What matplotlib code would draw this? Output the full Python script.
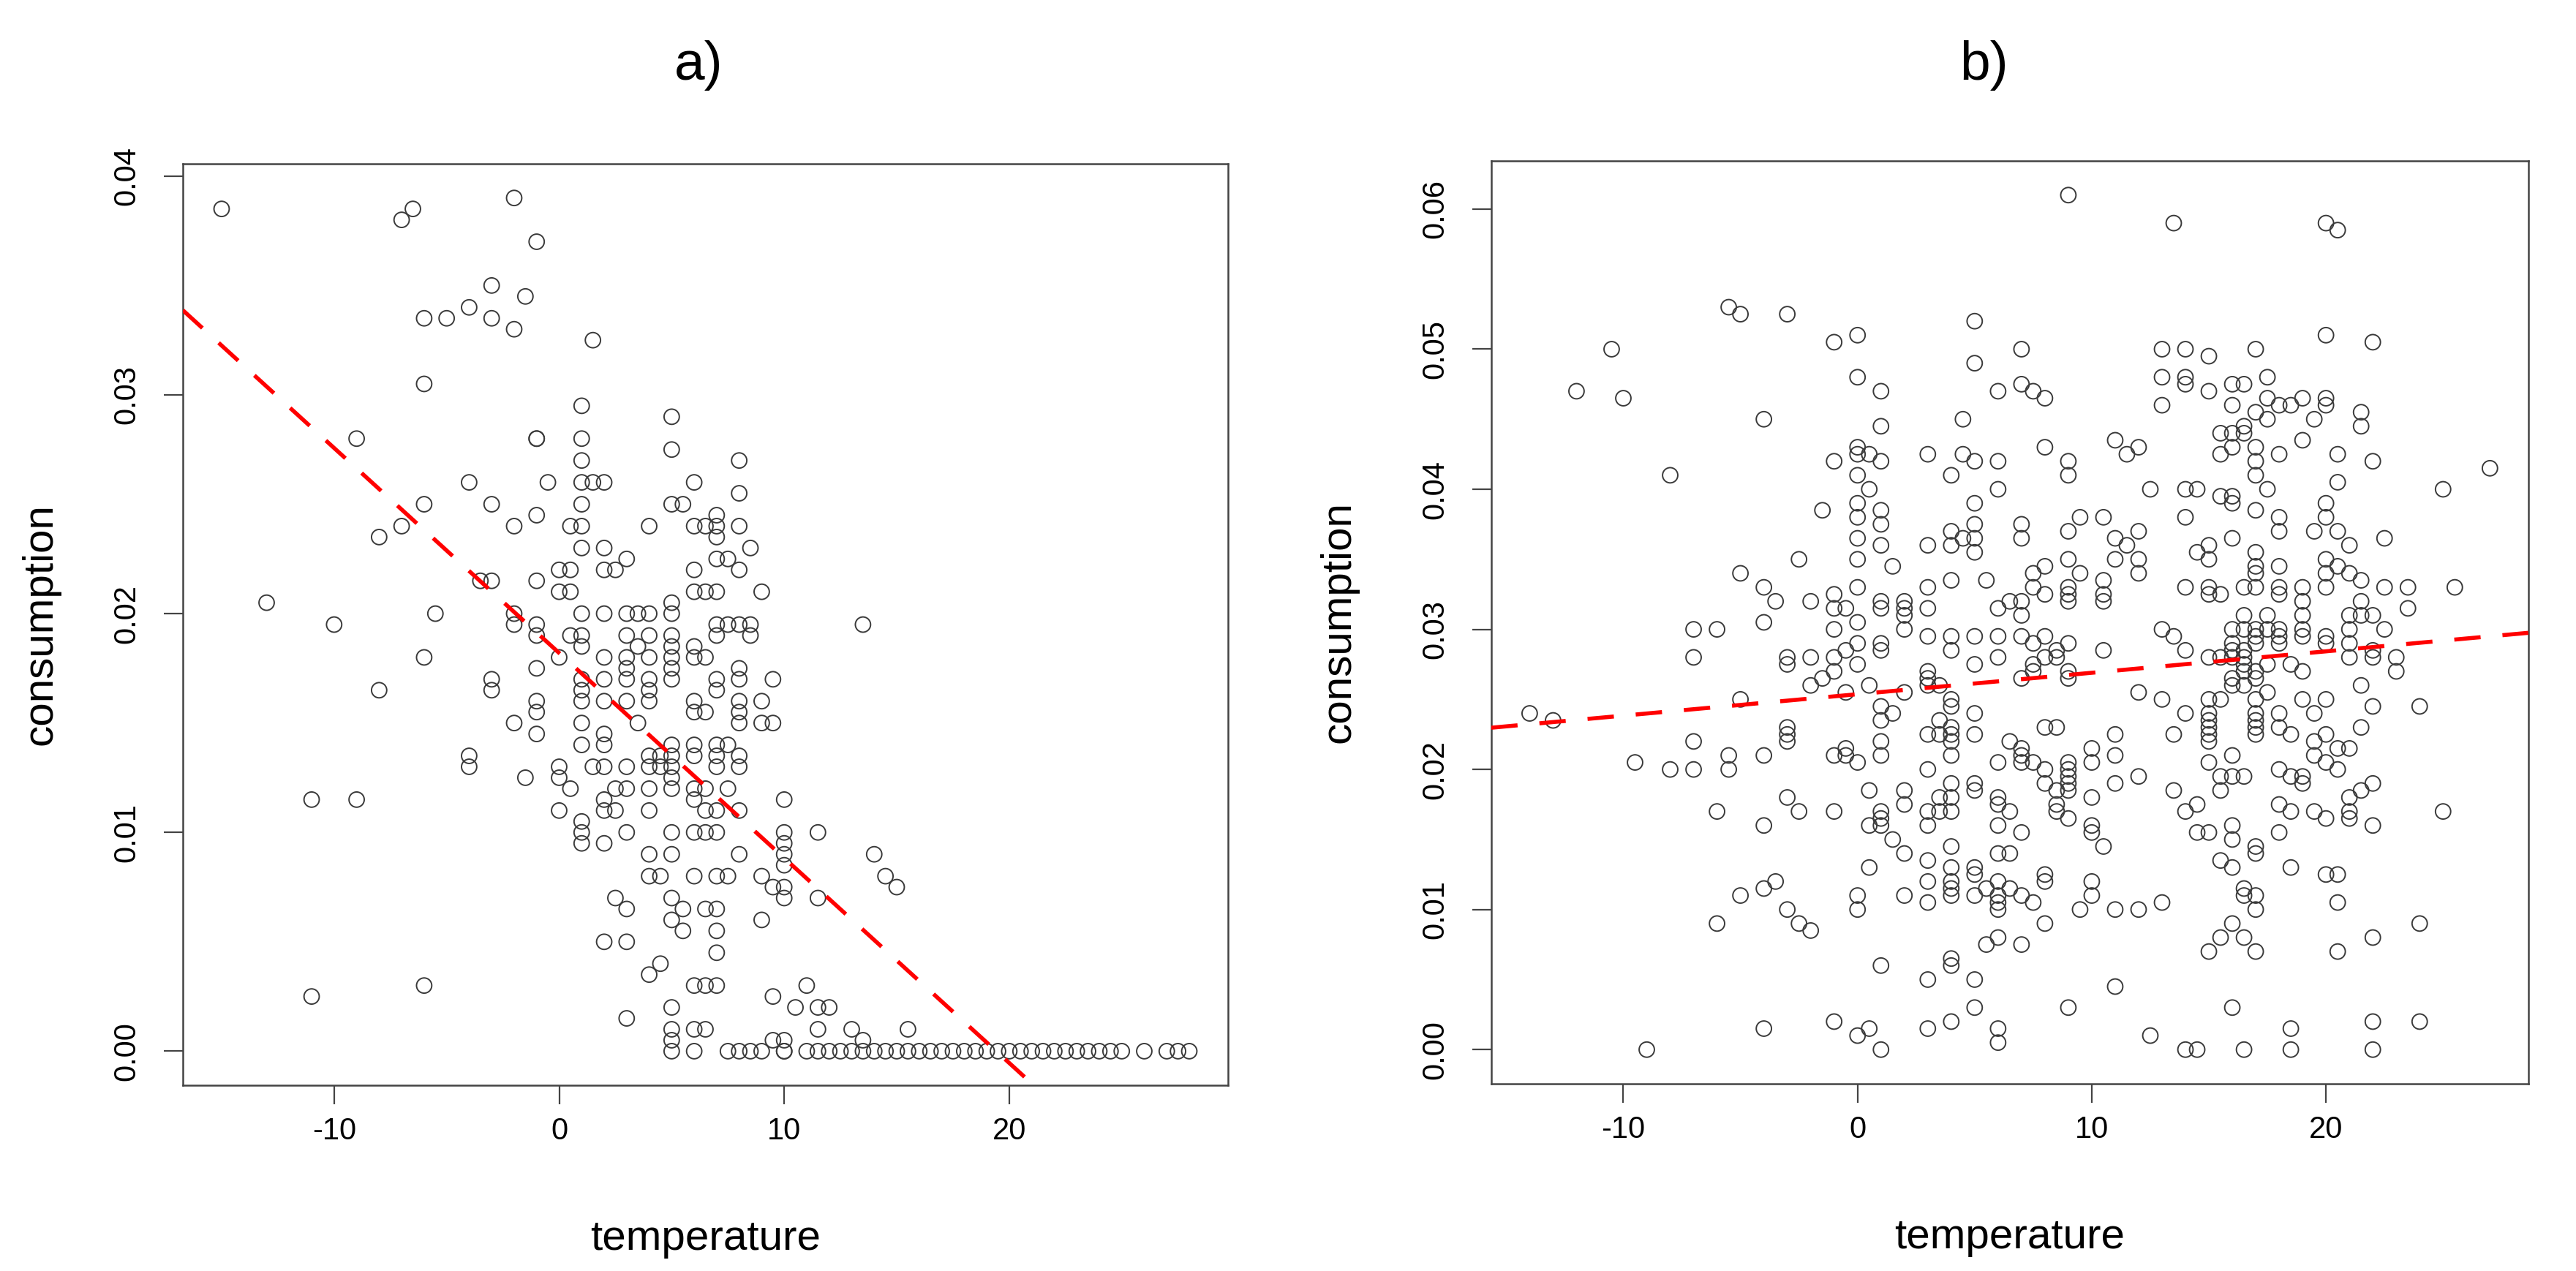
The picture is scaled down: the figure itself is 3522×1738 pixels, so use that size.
import matplotlib
matplotlib.use("Agg")
import matplotlib.pyplot as plt

# ---------- Data: panel a) ----------
temp_a = [
    -15, -6.5, -7, -2, -1, -3, -1.5, -4, -6, -5,
    -3, -2, 1.5, -6, 1, 5, -9, -1, -1, 1,
    1, 5, -4, -0.5, 1, 1.5, 2, 6, -6, -3,
    1, 5, 5.5, -1, -7, -8, -2, 0.5, 1, 4,
    6, 6.5, 1, 2, 3, 0, 0.5, 2, 2.5, 6,
    -3.5, -3, -1, 0, 0.5, 6, 6.5, 5, 5, -13,
    -5.5, -2, 1, 2, 3, 3.5, 4, -10, -1, -2,
    8, 8, 7, 7, 7, 8, 8.5, 7, 7.5, 8,
    7, 9, 7, 7.5, 8, 8.5, 13.5, 7, 8.5, 8,
    -1, 0.5, 1, 1, -6, -8, -3, -3, -1, 0,
    2, 3, 4, 5, 3, 4, 5, 5, 5, 5,
    3, 3, 3.5, 4, 4, 4, 2, 1, 1, 1,
    2, 3, -1, -1, -2, 1, -1, 3.5, 2, 2,
    1, 5, 6, 6, 6, 6, 6.5, 6, 6, 6.5,
    -4, -4, 4, 4.5, 5, 4, 4.5, 5, 5, 5,
    0, 0, -1.5, 1.5, 2, 3, 0.5, 2.5, 3, 4,
    6, 6.5, 6, 2, 0, 2, 2.5, 4, 6.5, -11,
    -9, 1, 1, 1, 2, 3, 5, 6, 6.5, 4,
    5, 4, 4.5, 6, 2.5, 3, 5, 5.5, 5, 5.5,
    6.5, 2, 3, 4.5, 4, 6, 6.5, -6, -11, 5,
    3, 5, 5, 6, 6.5,
    8, 7, 7, 9.5, 9, 8, 8, 8, 9, 9.5,
    7, 7.5, 7, 7, 8, 8, 7.5, 7, 8, 10,
    7, 10, 10, 10, 10, 11.5, 8, 14, 7, 7.5,
    9, 9.5, 10, 10, 11.5, 14.5, 15, 7, 9, 7,
    7, 7, 11, 9.5, 10.5, 11.5, 12, 11.5, 13, 15.5,
    9.5, 10, 13.5,
    5, 6, 7.5, 8, 8.5, 9, 10, 10, 11, 11.5,
    12, 12.5, 13, 13.5, 14, 14.5, 15, 15.5, 16, 16.5,
    17, 17.5, 18, 18.5, 19, 19.5, 20, 20.5, 21, 21.5,
    22, 22.5, 23, 23.5, 24, 24.5, 25, 26, 27, 27.5,
    28,
]
cons_a = [
    0.0385, 0.0385, 0.038, 0.039, 0.037, 0.035, 0.0345, 0.034, 0.0335, 0.0335,
    0.0335, 0.033, 0.0325, 0.0305, 0.0295, 0.029, 0.028, 0.028, 0.028, 0.028,
    0.027, 0.0275, 0.026, 0.026, 0.026, 0.026, 0.026, 0.026, 0.025, 0.025,
    0.025, 0.025, 0.025, 0.0245, 0.024, 0.0235, 0.024, 0.024, 0.024, 0.024,
    0.024, 0.024, 0.023, 0.023, 0.0225, 0.022, 0.022, 0.022, 0.022, 0.022,
    0.0215, 0.0215, 0.0215, 0.021, 0.021, 0.021, 0.021, 0.0205, 0.020, 0.0205,
    0.020, 0.020, 0.020, 0.020, 0.020, 0.020, 0.020, 0.0195, 0.0195, 0.0195,
    0.027, 0.0255, 0.0245, 0.024, 0.0235, 0.024, 0.023, 0.0225, 0.0225, 0.022,
    0.021, 0.021, 0.0195, 0.0195, 0.0195, 0.0195, 0.0195, 0.019, 0.019, 0.0175,
    0.019, 0.019, 0.019, 0.0185, 0.018, 0.0165, 0.017, 0.0165, 0.0175, 0.018,
    0.018, 0.019, 0.019, 0.019, 0.018, 0.018, 0.018, 0.0185, 0.0175, 0.017,
    0.0175, 0.017, 0.0185, 0.017, 0.0165, 0.016, 0.017, 0.017, 0.0165, 0.016,
    0.016, 0.016, 0.016, 0.0155, 0.015, 0.015, 0.0145, 0.015, 0.0145, 0.014,
    0.014, 0.014, 0.014, 0.0135, 0.0185, 0.018, 0.018, 0.016, 0.0155, 0.0155,
    0.0135, 0.013, 0.0135, 0.0135, 0.0135, 0.013, 0.013, 0.013, 0.0125, 0.012,
    0.013, 0.0125, 0.0125, 0.013, 0.013, 0.013, 0.012, 0.012, 0.012, 0.012,
    0.012, 0.012, 0.0115, 0.0115, 0.011, 0.011, 0.011, 0.011, 0.011, 0.0115,
    0.0115, 0.0105, 0.010, 0.0095, 0.0095, 0.010, 0.010, 0.010, 0.010, 0.009,
    0.009, 0.008, 0.008, 0.008, 0.007, 0.0065, 0.007, 0.0065, 0.006, 0.0055,
    0.0065, 0.005, 0.005, 0.004, 0.0035, 0.003, 0.003, 0.003, 0.0025, 0.002,
    0.0015, 0.001, 0.0005, 0.001, 0.001,
    0.017, 0.017, 0.0165, 0.017, 0.016, 0.016, 0.0155, 0.015, 0.015, 0.015,
    0.014, 0.014, 0.0135, 0.013, 0.0135, 0.013, 0.012, 0.011, 0.011, 0.0115,
    0.010, 0.010, 0.0095, 0.009, 0.0085, 0.010, 0.009, 0.009, 0.008, 0.008,
    0.008, 0.0075, 0.0075, 0.007, 0.007, 0.008, 0.0075, 0.0065, 0.006, 0.0055,
    0.0045, 0.003, 0.003, 0.0025, 0.002, 0.002, 0.002, 0.001, 0.001, 0.001,
    0.0005, 0.0005, 0.0005,
    0.0, 0.0, 0.0, 0.0, 0.0, 0.0, 0.0, 0.0, 0.0, 0.0,
    0.0, 0.0, 0.0, 0.0, 0.0, 0.0, 0.0, 0.0, 0.0, 0.0,
    0.0, 0.0, 0.0, 0.0, 0.0, 0.0, 0.0, 0.0, 0.0, 0.0,
    0.0, 0.0, 0.0, 0.0, 0.0, 0.0, 0.0, 0.0, 0.0, 0.0,
    0.0,
]

# ---------- Data: panel b) ----------
temp_b = [
    -12, -10.5, -10, -8, -5.5, -5, -3, -4, -1, 0,
    0, 1, 1, 0, 0, 0.5, 1, -1, 3, 4.5,
    4.5, 4, 0, 0.5, 0, 0, -1.5, 1, 1, 0,
    1, 3, 4, 4, 4.5, -2.5, 0, 1.5, -5, -4,
    -3.5, -2, -1, -1, 0, -0.5, 1, 1, 2, 2,
    2, 3, 3, 4, -4, 0, -7, -6,
    -7, -1, 2, 3, 4, 4, 0, 1, 1, -0.5,
    -1, -2, -3, -3, 0, -1, -1.5, -2, 0.5, -0.5,
    2, 3, 3, 3, 3.5, 4, 4, -5, -14, -13,
    1, 1, 1.5, 3.5, 4, 3, 3.5, 4, 4, 4,
    -3, -3, -3, -7, 1, 1, -4, -1, -0.5, -0.5,
    0, -9.5, -5.5, -5.5, -8, -7, 3, 0.5, 2, 2,
    4, 4, 4, 3.5, 3.5, 3, -3, -2.5, -6, -1,
    -4, 0.5, 1, 1, 1, 3, 1.5, 2, 4, 3,
    0.5, 4, 4, 4, 4, 3, 3, 2, 0, 0,
    -3.5, -4, -5, -3, -2.5, -2, -6, 1, 3, 4,
    4, -4, -1, 0.5, 0, 1, -9, 3, 4,
    9, 13.5, 20, 20.5, 5, 7, 5, 13, 14, 15,
    17, 20, 22, 6, 7, 7.5, 8, 13, 14, 14,
    15, 16, 16.5, 17.5, 13, 16, 17.5, 18, 18.5, 19,
    20, 20, 17, 17.5, 19.5, 21.5, 21.5, 16.5, 16.5, 16,
    15.5, 16, 15.5, 17, 17, 17, 18, 19, 20.5, 22,
    27, 11, 11.5, 12, 8, 9, 9, 5, 6, 6,
    5, 12.5, 14, 14.5, 15.5, 16, 16, 17.5, 20.5, 25,
    17, 20, 20, 18, 18, 14, 9.5, 10.5, 9, 12,
    11, 7, 7, 5, 5, 5, 19.5, 20.5, 21, 22.5,
    16, 15, 15, 14.5, 11.5, 11, 12, 12, 9, 9.5,
    8, 7.5, 7.5, 8, 5.5, 7, 6.5, 6, 9, 9,
    9, 10.5, 10.5, 10.5, 7, 17, 17, 17, 17, 18,
    18, 18, 20, 20, 20.5, 21, 21.5, 19, 19, 19,
    20, 22.5, 23.5, 25.5, 23.5, 21.5, 21, 21.5, 22, 16.5,
    16.5, 17.5, 14, 15, 15, 15.5,
    13, 16, 16.5, 17, 17.5, 18, 19, 21, 22.5, 7,
    8, 5, 6, 9, 7.5, 8.5, 10.5, 13.5, 14, 6,
    8, 8.5, 5, 7.5, 7.5, 7, 9, 9, 16, 16,
    16, 16, 16, 16.5, 16.5, 16.5, 16.5, 17, 17, 17,
    17, 16.5, 15, 15.5, 18, 18, 19, 20, 20, 21,
    21, 22, 22, 23, 23, 17.5, 18.5, 19, 21.5, 12,
    13, 15, 15.5, 17, 17.5, 19, 20, 22, 24, 5,
    14, 15, 15, 15, 15, 15, 17, 17, 17, 17,
    18, 18, 19.5, 21.5, 5, 8, 8.5, 11, 13.5, 18.5,
    20, 19.5, 19.5, 20, 20.5, 21, 20.5, 6.5, 7, 7,
    7, 7.5, 6, 10, 10, 11, 9, 9, 9, 9,
    9, 8, 8, 8.5, 16, 15, 15.5, 16, 16.5, 15.5,
    18, 18.5, 19, 19, 12, 11, 13.5, 5, 5, 6,
    6, 6.5, 8.5, 8.5, 9, 10, 14.5, 14, 18, 18.5,
    19.5, 20, 21, 21.5, 22, 21, 21, 25, 6, 7,
    10, 10, 10.5, 14.5, 15, 16, 16, 17, 17, 18,
    22, 6, 6.5, 15.5, 16, 18.5, 20, 20.5, 5, 5,
    8, 8, 6, 6, 6, 6, 5, 5.5, 6.5, 7,
    7.5, 10, 10, 9.5, 11, 12, 13, 16.5, 16.5, 17,
    17, 20.5, 8, 16, 15.5, 16.5, 15, 17, 20.5, 22,
    24, 6, 5.5, 7, 5, 11, 5, 9, 16, 6,
    6, 12.5, 18.5, 22, 24, 14, 14.5, 16.5, 18.5, 22,
]
cons_b = [
    0.047, 0.050, 0.0465, 0.041, 0.053, 0.0525, 0.0525, 0.045, 0.0505, 0.051,
    0.048, 0.047, 0.0445, 0.043, 0.0425, 0.0425, 0.042, 0.042, 0.0425, 0.045,
    0.0425, 0.041, 0.041, 0.040, 0.039, 0.038, 0.0385, 0.0385, 0.0375, 0.0365,
    0.036, 0.036, 0.037, 0.036, 0.0365, 0.035, 0.035, 0.0345, 0.034, 0.033,
    0.032, 0.032, 0.0325, 0.0315, 0.033, 0.0315, 0.032, 0.0315, 0.032, 0.0315,
    0.031, 0.033, 0.0315, 0.0335, 0.0305, 0.0305, 0.030, 0.030,
    0.028, 0.030, 0.030, 0.0295, 0.0295, 0.0285, 0.029, 0.029, 0.0285, 0.0285,
    0.028, 0.028, 0.028, 0.0275, 0.0275, 0.027, 0.0265, 0.026, 0.026, 0.0255,
    0.0255, 0.027, 0.0265, 0.026, 0.026, 0.025, 0.0245, 0.025, 0.024, 0.0235,
    0.0245, 0.0235, 0.024, 0.0235, 0.023, 0.0225, 0.0225, 0.0225, 0.022, 0.021,
    0.023, 0.0225, 0.022, 0.022, 0.022, 0.021, 0.021, 0.021, 0.0215, 0.021,
    0.0205, 0.0205, 0.021, 0.020, 0.020, 0.020, 0.020, 0.0185, 0.0185, 0.0175,
    0.019, 0.018, 0.017, 0.018, 0.017, 0.017, 0.018, 0.017, 0.017, 0.017,
    0.016, 0.016, 0.017, 0.0165, 0.016, 0.016, 0.015, 0.014, 0.0145, 0.0135,
    0.013, 0.013, 0.012, 0.0115, 0.011, 0.012, 0.0105, 0.011, 0.011, 0.010,
    0.012, 0.0115, 0.011, 0.010, 0.009, 0.0085, 0.009, 0.006, 0.005, 0.0065,
    0.006, 0.0015, 0.002, 0.0015, 0.001, 0.0, 0.0, 0.0015, 0.002,
    0.061, 0.059, 0.059, 0.0585, 0.052, 0.050, 0.049, 0.050, 0.050, 0.0495,
    0.050, 0.051, 0.0505, 0.047, 0.0475, 0.047, 0.0465, 0.048, 0.048, 0.0475,
    0.047, 0.0475, 0.0475, 0.048, 0.046, 0.046, 0.0465, 0.046, 0.046, 0.0465,
    0.0465, 0.046, 0.0455, 0.045, 0.045, 0.0455, 0.0445, 0.0445, 0.044, 0.044,
    0.044, 0.043, 0.0425, 0.043, 0.042, 0.041, 0.0425, 0.0435, 0.0425, 0.042,
    0.0415, 0.0435, 0.0425, 0.043, 0.043, 0.042, 0.041, 0.042, 0.042, 0.040,
    0.039, 0.040, 0.040, 0.040, 0.0395, 0.0395, 0.039, 0.040, 0.0405, 0.040,
    0.0385, 0.039, 0.038, 0.038, 0.037, 0.038, 0.038, 0.038, 0.037, 0.037,
    0.0365, 0.0375, 0.0365, 0.0375, 0.0365, 0.0355, 0.037, 0.037, 0.036, 0.0365,
    0.0365, 0.036, 0.035, 0.0355, 0.036, 0.035, 0.035, 0.034, 0.035, 0.034,
    0.0345, 0.034, 0.033, 0.0325, 0.0335, 0.032, 0.032, 0.0315, 0.033, 0.0325,
    0.032, 0.0335, 0.0325, 0.032, 0.031, 0.0355, 0.0345, 0.034, 0.033, 0.0345,
    0.033, 0.0325, 0.035, 0.034, 0.0345, 0.034, 0.0335, 0.033, 0.032, 0.031,
    0.033, 0.033, 0.033, 0.033, 0.0315, 0.032, 0.031, 0.031, 0.031, 0.033,
    0.031, 0.031, 0.033, 0.033, 0.0325, 0.0325,
    0.030, 0.030, 0.030, 0.030, 0.030, 0.030, 0.030, 0.030, 0.030, 0.0295,
    0.0295, 0.0295, 0.0295, 0.029, 0.029, 0.0285, 0.0285, 0.0295, 0.0285, 0.028,
    0.028, 0.028, 0.0275, 0.0275, 0.027, 0.0265, 0.027, 0.0265, 0.029, 0.0285,
    0.028, 0.0265, 0.026, 0.0285, 0.028, 0.0275, 0.027, 0.0295, 0.029, 0.027,
    0.0265, 0.026, 0.028, 0.028, 0.0295, 0.029, 0.0295, 0.0295, 0.029, 0.029,
    0.028, 0.0285, 0.028, 0.028, 0.027, 0.0275, 0.0275, 0.027, 0.026, 0.0255,
    0.025, 0.025, 0.025, 0.025, 0.0255, 0.025, 0.025, 0.0245, 0.0245, 0.024,
    0.024, 0.024, 0.0235, 0.023, 0.0225, 0.022, 0.024, 0.0235, 0.023, 0.0225,
    0.024, 0.023, 0.024, 0.023, 0.0225, 0.023, 0.023, 0.0225, 0.0225, 0.0225,
    0.0225, 0.022, 0.021, 0.0205, 0.0215, 0.0215, 0.020, 0.022, 0.0215, 0.021,
    0.0205, 0.0205, 0.0205, 0.0215, 0.0205, 0.021, 0.0205, 0.020, 0.0195, 0.019,
    0.0185, 0.020, 0.019, 0.0185, 0.021, 0.0205, 0.0195, 0.0195, 0.0195, 0.0185,
    0.020, 0.0195, 0.0195, 0.019, 0.0195, 0.019, 0.0185, 0.019, 0.0185, 0.018,
    0.0175, 0.017, 0.0175, 0.017, 0.0165, 0.018, 0.0175, 0.017, 0.0175, 0.017,
    0.017, 0.0165, 0.018, 0.0185, 0.019, 0.017, 0.0165, 0.017, 0.016, 0.0155,
    0.016, 0.0155, 0.0145, 0.0155, 0.0155, 0.016, 0.015, 0.0145, 0.014, 0.0155,
    0.016, 0.014, 0.014, 0.0135, 0.013, 0.013, 0.0125, 0.0125, 0.013, 0.0125,
    0.0125, 0.012, 0.012, 0.011, 0.0105, 0.010, 0.011, 0.0115, 0.0115, 0.011,
    0.0105, 0.012, 0.011, 0.010, 0.010, 0.010, 0.0105, 0.0115, 0.011, 0.011,
    0.010, 0.0105, 0.009, 0.009, 0.008, 0.008, 0.007, 0.007, 0.007, 0.008,
    0.009, 0.008, 0.0075, 0.0075, 0.005, 0.0045, 0.003, 0.003, 0.003, 0.0015,
    0.0005, 0.001, 0.0015, 0.002, 0.002, 0.0, 0.0, 0.0, 0.0, 0.0,
]

# fitted lines (intercept, slope)
fit_a = (0.0182, -0.000937)
fit_b = (0.02537, 0.000153)

assert len(temp_a) == len(cons_a), (len(temp_a), len(cons_a))
assert len(temp_b) == len(cons_b), (len(temp_b), len(cons_b))

# ---------- Style ----------
plt.rcParams["font.family"] = ["Liberation Sans", "DejaVu Sans"]
EDGE = "#3a3a3a"
FRAME = "#444444"


def draw_panel(ax, temps, cons, fit, xlim, ylim, yticks, ylab_x):
    ax.scatter(temps, cons, s=225, facecolors="none", edgecolors=EDGE,
               linewidths=1.4, zorder=2)
    ax.axline((0, fit[0]), slope=fit[1], color="red", lw=4,
              dashes=(6.5, 5.4), zorder=3)

    ax.set_xlim(*xlim)
    ax.set_ylim(*ylim)
    ax.set_xticks([-10, 0, 10, 20])
    ax.set_xticklabels(["-10", "0", "10", "20"])
    ax.set_yticks(yticks)
    ax.set_yticklabels([f"{v:.2f}" for v in yticks], rotation=90, va="center")

    for sp in ax.spines.values():
        sp.set_color(FRAME)
        sp.set_linewidth(1.8)
    ax.tick_params(axis="both", length=19, width=1.6, color=FRAME,
                   labelsize=30, direction="out")
    ax.tick_params(axis="x", pad=12)
    ax.tick_params(axis="y", pad=22)

    ax.set_xlabel("temperature", fontsize=42)
    ax.set_ylabel("consumption", fontsize=42)
    ax.xaxis.set_label_coords(0.5, -0.145)
    ax.yaxis.set_label_coords(ylab_x, 0.5)


fig = plt.figure(figsize=(35.22, 17.38), dpi=100)
ax_a = fig.add_axes([0.0710, 0.1461, 0.4057, 0.7250])
ax_b = fig.add_axes([0.5789, 0.1473, 0.4026, 0.7261])

draw_panel(ax_a, temp_a, cons_a, fit_a, (-16.72, 29.72), (-0.00156, 0.04056),
           [0.0, 0.01, 0.02, 0.03, 0.04], -0.117)
draw_panel(ax_b, temp_b, cons_b, fit_b, (-15.64, 28.64), (-0.00244, 0.06344),
           [0.0, 0.01, 0.02, 0.03, 0.04, 0.05, 0.06], -0.128)

fig.text(955 / 3522, 1 - 90 / 1738, "a)", fontsize=54, ha="center", va="center")
fig.text(2713 / 3522, 1 - 90 / 1738, "b)", fontsize=54, ha="center", va="center")

fig.savefig("out.png", dpi=100, facecolor="white")
